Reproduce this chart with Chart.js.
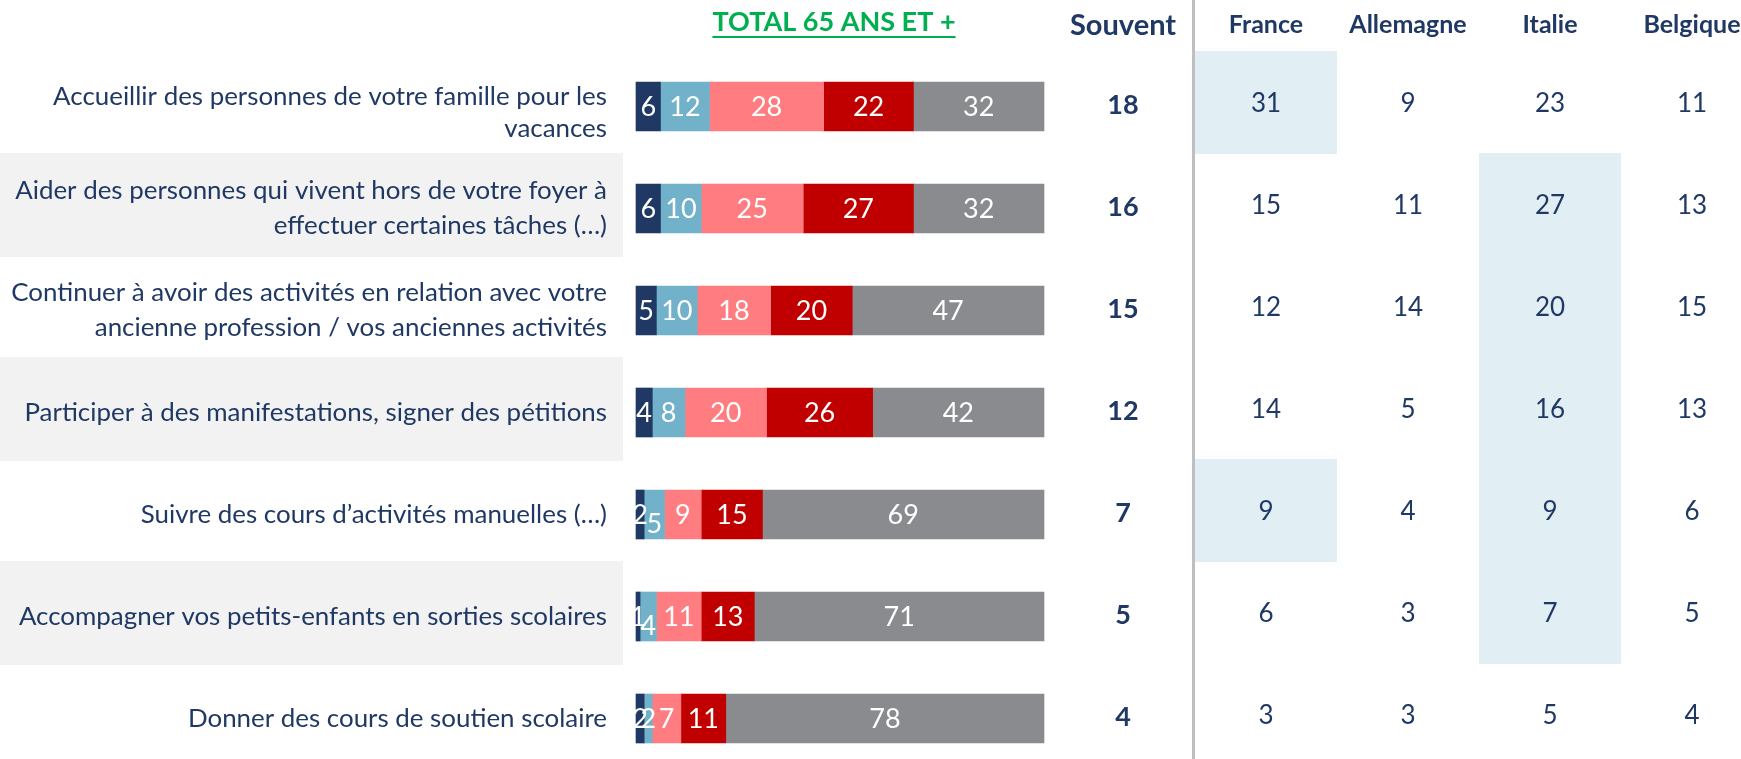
<!DOCTYPE html>
<html>
<head>
<meta charset="utf-8">
<script src="https://cdn.jsdelivr.net/npm/chart.js@4"></script>
<style>
  html, body { margin: 0; padding: 0; background: #fff; }
  #wrap { width: 1741px; height: 759px; position: relative; }
</style>
</head>
<body>
<div id="wrap"><canvas id="activitiesChart"></canvas></div>
<script>
const categories = [
  ["Accueillir des personnes de votre famille pour les", "vacances"],
  ["Aider des personnes qui vivent hors de votre foyer à", "effectuer certaines tâches (…)"],
  ["Continuer à avoir des activités en relation avec votre", "ancienne profession / vos anciennes activités"],
  ["Participer à des manifestations, signer des pétitions"],
  ["Suivre des cours d’activités manuelles (…)"],
  ["Accompagner vos petits-enfants en sorties scolaires"],
  ["Donner des cours de soutien scolaire"],
];

// total 65 ans et +
const tresSouvent = [6, 6, 5, 4, 2, 1, 2];
const assezSouvent = [12, 10, 10, 8, 5, 4, 2];
const rarement = [28, 25, 18, 20, 9, 11, 7];
const jamais = [22, 27, 20, 26, 15, 13, 11];
const nonConcerne = [32, 32, 47, 42, 69, 71, 78];
const souvent = [18, 16, 15, 12, 7, 5, 4];

// par pays
const countries = ["France", "Allemagne", "Italie", "Belgique"];
const france = [31, 15, 12, 14, 9, 6, 3];
const allemagne = [9, 11, 14, 5, 4, 3, 3];
const italie = [23, 27, 20, 16, 9, 7, 5];
const belgique = [11, 13, 15, 13, 6, 5, 4];
// cellules surlignées [ligne, pays]
const highlighted = [[0, 0], [4, 0], [1, 2], [2, 2], [3, 2], [4, 2], [5, 2]];

const NAVY = "#1F3864";
const FONT = "Lato, 'Liberation Sans', sans-serif";
const countryValues = [france, allemagne, italie, belgique];
const colX = [1266, 1408, 1550, 1692];

const tablePlugin = {
  id: "tablePlugin",
  beforeDatasetsDraw(chart) {
    const { ctx, scales: { y } } = chart;
    const pitch = y.getPixelForValue(1) - y.getPixelForValue(0);
    ctx.save();
    // bandes grises derrière les libellés
    categories.forEach((c, i) => {
      if (i % 2 === 1) {
        const yc = y.getPixelForValue(i);
        ctx.fillStyle = "#F2F2F2";
        ctx.fillRect(0, Math.round(yc - 56), 623, 104);
      }
    });
    highlighted.forEach(([row, col]) => {
      const top = Math.floor(y.getPixelForValue(row) - 55);
      ctx.fillStyle = "#E1EFF4";
      ctx.fillRect(colX[col] - 71, top, 142, Math.ceil(pitch) + 1);
    });
    ctx.fillStyle = "#BFBFBF";
    ctx.fillRect(1192, 0, 3, 759);
    ctx.restore();
  },
  afterDatasetsDraw(chart) {
    const { ctx, scales: { y } } = chart;
    ctx.save();
    ctx.textBaseline = "middle";

    // valeurs dans les barres
    ctx.textAlign = "center";
    ctx.fillStyle = "#FFFFFF";
    ctx.font = `27px ${FONT}`;
    chart.data.datasets.forEach((ds, d) => {
      const meta = chart.getDatasetMeta(d);
      meta.data.forEach((bar, i) => {
        const { x, base, y: by } = bar.getProps(["x", "base", "y"], true);
        let ty = by + 1;
        if (d > 0 && chart.data.datasets[d - 1].data[i] <= 2 && ds.data[i] > 2 && ds.data[i] < 7) ty += 9;
        ctx.fillText(String(ds.data[i]), (x + base) / 2, ty);
      });
    });

    // libellés à gauche
    ctx.fillStyle = NAVY;
    ctx.textAlign = "right";
    ctx.font = `24px ${FONT}`;
    const ref = ctx.measureText(categories[2][0]).width;
    const labelSize = 24 * 596 / ref;
    ctx.font = `${labelSize}px ${FONT}`;
    categories.forEach((lines, i) => {
      const yc = y.getPixelForValue(i) + (i === 0 ? 6 : 0);
      const lh = i === 0 ? 32 : 35;
      const top = yc - (lines.length - 1) * lh / 2;
      lines.forEach((l, k) => ctx.fillText(l, 607, top + k * lh));
    });

    // titre
    ctx.textAlign = "center";
    ctx.fillStyle = "#00B050";
    ctx.font = `bold 27px ${FONT}`;
    ctx.fillText("TOTAL 65 ANS ET +", 834, 22);
    const tw = ctx.measureText("TOTAL 65 ANS ET +").width;
    ctx.fillRect(834 - tw / 2, 36, tw, 2);

    // Souvent
    ctx.fillStyle = NAVY;
    ctx.font = `bold 29px ${FONT}`;
    ctx.fillText("Souvent", 1123, 26);
    ctx.font = `bold 27px ${FONT}`;
    souvent.forEach((v, i) => ctx.fillText(String(v), 1123, y.getPixelForValue(i) - 1));

    // pays
    ctx.font = `bold 25px ${FONT}`;
    countries.forEach((c, k) => ctx.fillText(c, colX[k], 25));
    ctx.font = `26px ${FONT}`;
    countryValues.forEach((vals, k) => {
      vals.forEach((v, i) => ctx.fillText(String(v), colX[k], y.getPixelForValue(i) - 3));
    });
    ctx.restore();
  },
};

const ctx = document.getElementById("activitiesChart").getContext("2d");
const chart = new Chart(ctx, {
  type: "bar",
  data: {
    labels: categories,
    datasets: [
      { label: "Très souvent", data: tresSouvent, backgroundColor: "#1F3864" },
      { label: "Assez souvent", data: assezSouvent, backgroundColor: "#71B2CA" },
      { label: "Rarement", data: rarement, backgroundColor: "#FF7C80" },
      { label: "Jamais", data: jamais, backgroundColor: "#C00000" },
      { label: "Non concerné", data: nonConcerne, backgroundColor: "#898B8E" },
    ],
  },
  options: {
    indexAxis: "y",
    responsive: true,
    maintainAspectRatio: false,
    animation: false,
    barThickness: 49,
    datasets: { bar: { clip: false } },
    layout: {
      padding: { left: 636, right: 697, top: 106.5, bottom: 40.5 },
    },
    plugins: {
      legend: { display: false },
      tooltip: { enabled: false },
    },
    scales: {
      x: { stacked: true, min: 0, max: 100, display: false },
      y: { stacked: true, offset: false, display: false },
    },
  },
  plugins: [tablePlugin],
});
</script>
</body>
</html>
